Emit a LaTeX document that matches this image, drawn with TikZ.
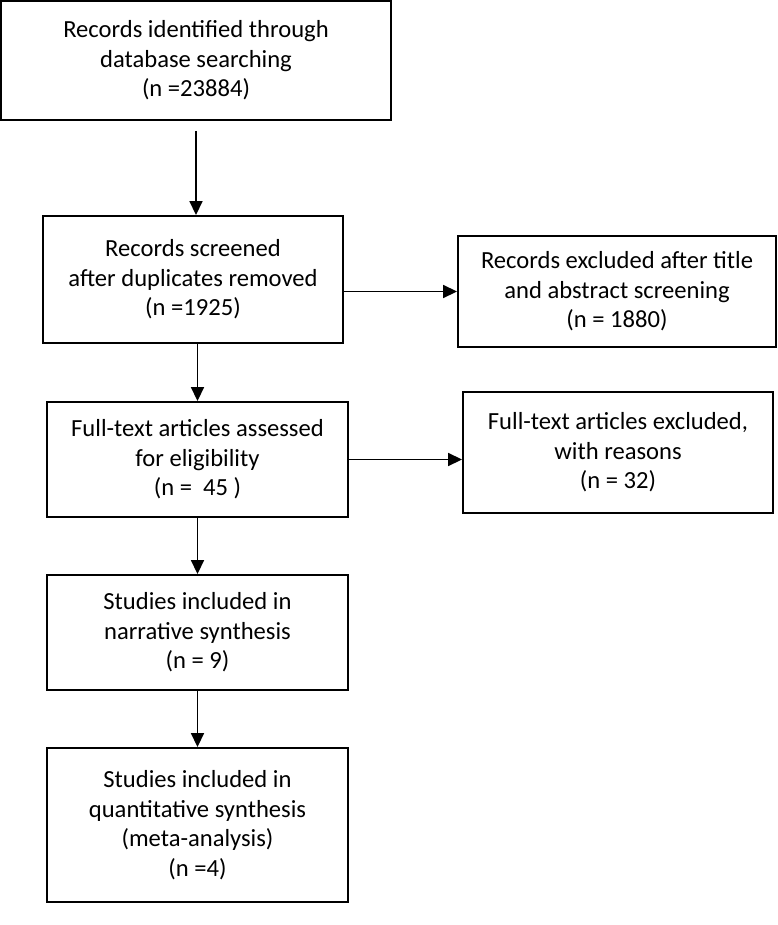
\documentclass[tikz,border=0pt]{standalone}
\usepackage{fontspec}
\setmainfont{Carlito}
\usepackage{tikz}
\usetikzlibrary{arrows.meta}

\begin{document}
\begin{tikzpicture}[x=1pt,y=-1pt,
        box/.style={draw, line width=1.9pt, align=center, inner sep=0pt,
                    font=\fontsize{24.6}{29.6}\selectfont},
        arr/.style={line width=1.7pt, -{Triangle[length=14pt,width=13pt]}}]
                \useasboundingbox (0,0) rectangle (777,925);
                \node [box, minimum width=390, minimum height=119] (ident) at (196,60.5)
                    {Records identified through\\database searching\\(n =23884)};
                \node [box, minimum width=300, minimum height=127] (screen) at (193,279.5)
                    {Records screened\\after duplicates removed\\(n =1925)};
                \node [box, minimum width=318, minimum height=111] (excla) at (617,291.5)
                    {Records excluded after title\\and abstract screening\\(n = 1880)};
                \node [box, minimum width=301, minimum height=115] (full) at (197.5,459.5)
                    {Full-text articles assessed\\for eligibility\\(n = \ 45 )};
                \node [box, minimum width=310, minimum height=121] (exclb) at (618,452.5)
                    {Full-text articles excluded,\\with reasons\\(n = 32)};
                \node [box, minimum width=301, minimum height=115] (narr) at (197.5,632.5)
                    {Studies included in\\narrative synthesis\\(n = 9)};
                \node [box, minimum width=301, minimum height=154] (quant) at (197.5,825)
                    {Studies included in\\quantitative synthesis\\(meta-analysis)\\(n =4)};
                \draw [arr, shorten <=10pt] (ident.south) -- (ident.south |- screen.north);
                \draw [arr] (screen.east |- excla.west) -- (excla.west);
                \draw [arr] (full.north |- screen.south) -- (full.north);
                \draw [arr] (full.east) -- (full.east -| exclb.west);
                \draw [arr] (full.south) -- (narr.north);
                \draw [arr] (narr.south) -- (quant.north);
            \end{tikzpicture}
\end{document}
